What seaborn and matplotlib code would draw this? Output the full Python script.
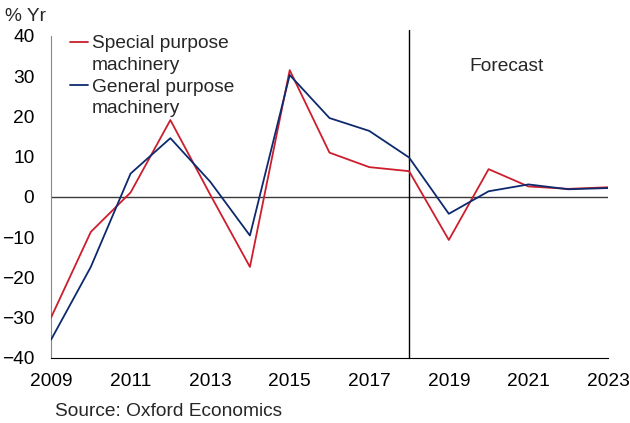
import numpy as np
import pandas as pd
import matplotlib
matplotlib.use("Agg")
import matplotlib.pyplot as plt
import seaborn as sns
from matplotlib.lines import Line2D

# data
years = list(range(2009, 2024))
special = [-30.0, -8.7, 1.1, 19.1, 0.6, -17.4, 31.5, 11.0, 7.4, 6.4, -10.7, 6.9, 2.6, 2.0, 2.4]
general = [-35.5, -17.4, 5.8, 14.6, 3.8, -9.6, 30.3, 19.6, 16.4, 9.8, -4.2, 1.4, 3.1, 1.9, 2.2]
series_names = ["Special purpose\nmachinery", "General purpose\nmachinery"]
colors = ["#CC1E2C", "#0D2A6E"]
forecast_start = 2018
xtick_labels = [str(y) if y % 2 == 1 else "" for y in years]
yticks = [-40, -30, -20, -10, 0, 10, 20, 30, 40]

df = pd.DataFrame({
    "year": years * 2,
    "value": special + general,
    "series": [series_names[0]] * len(years) + [series_names[1]] * len(years),
})

sns.set_style("white")
plt.rcParams["font.family"] = ["Liberation Sans", "DejaVu Sans"]
fs = 13.8

fig = plt.figure(figsize=(6.3, 4.23), dpi=100)
ax = fig.add_axes([0.081, 0.154, 0.884, 0.761])

ax.axhline(0, color="#3a3a3a", lw=1.0, zorder=1)
sns.lineplot(data=df, x="year", y="value", hue="series", palette=colors,
             linewidth=1.3, legend=False, ax=ax, zorder=3)
ax.axvline(forecast_start, ymin=0, ymax=1.02, color="black", lw=1.0, clip_on=False, zorder=2)

ax.set_xlim(years[0], years[-1])
ax.set_ylim(-40, 40)
ax.set_xticks(years)
ax.set_xticklabels(xtick_labels)
ax.set_yticks(yticks)
ax.set_xlabel("")
ax.set_ylabel("")

for s in ["top", "right"]:
    ax.spines[s].set_visible(False)
ax.spines["left"].set_color("#888888")
ax.spines["bottom"].set_color("black")
ax.tick_params(axis="both", which="both", direction="out", length=5, width=0.8,
               labelsize=fs, colors="black")
ax.tick_params(axis="x", pad=6)
ax.tick_params(axis="y", color="#888888", length=4, pad=8)

# legend with the handle aligned to the first text line
handles = [Line2D([], [], color=colors[0], lw=1.3),
           Line2D([], [], color="none"),
           Line2D([], [], color=colors[1], lw=1.3),
           Line2D([], [], color="none")]
labels = ["Special purpose", "machinery", "General purpose", "machinery"]
leg = ax.legend(handles, labels, loc="upper left", bbox_to_anchor=(0.034, 1.003),
                frameon=False, fontsize=fs, handlelength=0.95, handletextpad=0.18,
                labelspacing=0.22, borderaxespad=0, borderpad=0)

ax.text(2020.46, 32.5, "Forecast", fontsize=fs, ha="center", va="center")
fig.text(0.008, 0.962, "% Yr", fontsize=fs, ha="left", va="center")
fig.text(0.087, 0.028, "Source: Oxford Economics", fontsize=fs, ha="left", va="center")

fig.savefig("out.png", dpi=100)
